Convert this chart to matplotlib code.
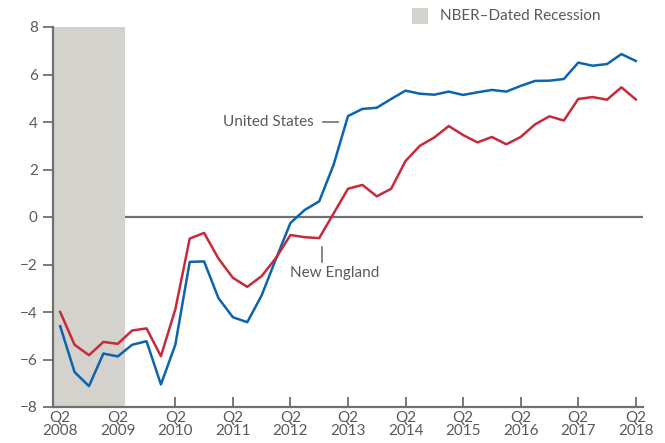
import numpy as np
import matplotlib
matplotlib.use("Agg")
import matplotlib.pyplot as plt

# quarterly, Q2 2008 .. Q2 2018
us = [-4.60, -6.53, -7.12, -5.75, -5.87, -5.38, -5.23, -7.05, -5.38, -1.89,
      -1.87, -3.42, -4.22, -4.43, -3.30, -1.75, -0.25, 0.30, 0.66, 2.20,
      4.25, 4.55, 4.60, 4.97, 5.32, 5.19, 5.15, 5.28, 5.14, 5.25,
      5.35, 5.28, 5.52, 5.73, 5.74, 5.81, 6.50, 6.37, 6.44, 6.86, 6.57]
ne = [-4.00, -5.38, -5.82, -5.26, -5.34, -4.78, -4.69, -5.86, -3.89, -0.91,
      -0.67, -1.75, -2.56, -2.94, -2.49, -1.72, -0.76, -0.85, -0.89, 0.15,
      1.19, 1.35, 0.87, 1.19, 2.36, 3.00, 3.35, 3.83, 3.45, 3.14,
      3.37, 3.06, 3.37, 3.90, 4.24, 4.06, 4.97, 5.05, 4.94, 5.46, 4.95]
years = list(range(2008, 2019))
tick_labels = ["Q2\n%d" % y for y in years]
recession = (-0.5, 4.5)  # in quarter index

plt.rcParams['font.family'] = ['Lato', 'DejaVu Sans']
gray = '#5a5a5a'
axc = '#707070'

fig = plt.figure(figsize=(6.65, 4.43), dpi=100)
ax = fig.add_axes([53/665, 1-407/443, (643-53)/665, (407-27)/443])

x = np.arange(len(us))
ax.axvspan(recession[0], recession[1], color='#d3d2cd', lw=0, zorder=2)
ax.axhline(0, color=axc, lw=1.6, zorder=1)
ax.plot(x, us, color='#0b64ad', lw=1.8, zorder=3)
ax.plot(x, ne, color='#c62a3b', lw=1.8, zorder=3)

ax.set_xlim(-0.5, 40.5)
ax.set_ylim(-8, 8)
ax.set_xticks(np.arange(0, 41, 4))
ax.set_xticklabels(tick_labels, linespacing=0.85)
ax.set_yticks(np.arange(-8, 9, 2))
ax.set_yticklabels([str(v).replace('-', '\u2212') for v in range(-8, 9, 2)])

for s in ['top', 'right']:
    ax.spines[s].set_visible(False)
for s in ['left', 'bottom']:
    ax.spines[s].set_color(axc)
    ax.spines[s].set_linewidth(1.6)
ax.tick_params(axis='x', direction='in', length=7, width=1.3, color=axc,
               labelsize=11, labelcolor=gray, pad=3)
ax.tick_params(axis='y', direction='out', length=7, width=1.3, color=axc,
               labelsize=11, labelcolor=gray, pad=4)

# annotations
ax.text(17.6, 4.0, "United States", ha='right', va='center', fontsize=11, color=gray)
ax.plot([18.25, 19.3], [4.0, 4.0], color=axc, lw=1.2, clip_on=False)
ax.text(16.0, -2.35, "New England", ha='left', va='center', fontsize=11, color=gray)
ax.plot([18.2, 18.2], [-1.25, -1.9], color=axc, lw=1.2)

# legend
fig.patches.append(plt.Rectangle((412/665, 1-24/443), 16/665, 16/443,
                                 transform=fig.transFigure, color='#d3d2cd', lw=0))
fig.text(440/665, 1-16/443, "NBER\u2013Dated Recession", ha='left', va='center',
         fontsize=11, color=gray)

fig.savefig('out.png', dpi=100)
